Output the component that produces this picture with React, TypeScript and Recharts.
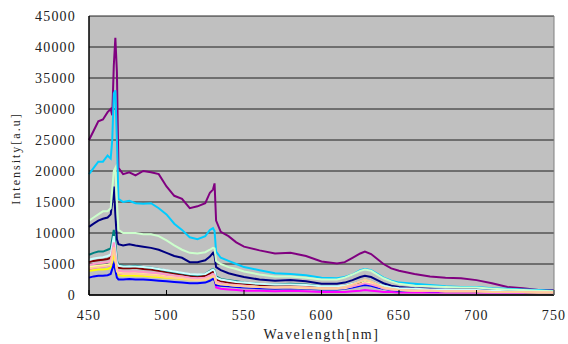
import { LineChart, Line, XAxis, YAxis, CartesianGrid } from "recharts";

const wavelengths = [
  450, 453, 456, 459, 462, 464, 465, 466, 467, 468, 469, 472, 476, 480, 485, 490, 495, 500, 505, 510,
  515, 520, 525, 528, 530, 531, 532, 535, 540, 545, 550, 560, 570, 580, 590, 600, 610, 615, 620, 625,
  628, 632, 636, 640, 645, 650, 660, 670, 680, 690, 700, 710, 720, 730, 740, 750,
];

const navy = [
  11000, 11500, 12000, 12300, 12500, 13000, 15000, 17500, 13000, 9000, 8200, 8000, 8200, 8000, 7800, 7600, 7300, 6800, 6300, 6000,
  5300, 5300, 5600, 6200, 6800, 6300, 4500, 4000, 3500, 3200, 2900, 2500, 2300, 2400, 2200, 1800, 1800, 2000, 2400, 2900,
  3100, 2900, 2400, 1900, 1500, 1300, 1100, 1000, 900, 900, 900, 800, 700, 600, 600, 500,
];
const magenta = [
  4200, 4400, 4500, 4600, 4700, 4800, 6000, 7500, 5500, 3700, 3400, 3400, 3500, 3300, 3300, 3200, 3100, 3000, 2800, 2700,
  2600, 2500, 2600, 2900, 3200, 3000, 1200, 1000, 900, 800, 700, 700, 600, 700, 600, 500, 500, 500, 600, 700,
  800, 700, 600, 500, 500, 400, 400, 400, 400, 400, 400, 400, 400, 400, 400, 400,
];
const yellow = [
  3900, 4000, 4100, 4100, 4200, 4400, 5500, 7000, 5200, 3400, 3200, 3100, 3200, 3100, 3100, 3000, 2900, 2800, 2700, 2600,
  2500, 2400, 2500, 2800, 3100, 2900, 1900, 1700, 1500, 1400, 1300, 1200, 1100, 1200, 1100, 1000, 1000, 1100, 1400, 1800,
  2000, 1800, 1400, 1100, 900, 800, 700, 700, 600, 600, 600, 500, 500, 500, 400, 400,
];
const purple = [
  25000, 26500, 28000, 28300, 29500, 30000, 29000, 37000, 41500, 36000, 20500, 19500, 19800, 19300, 20000, 19800, 19500, 17500, 16000, 15500,
  14000, 14300, 14800, 16500, 17000, 18000, 12000, 10200, 9500, 8500, 7800, 7200, 6700, 6800, 6300, 5400, 5100, 5300, 6000, 6700,
  7000, 6600, 5800, 5000, 4300, 3900, 3400, 3000, 2800, 2700, 2400, 1900, 1300, 1100, 800, 800,
];
const darkRed = [
  5300, 5500, 5600, 5700, 5800, 6000, 7500, 9000, 7000, 4800, 4400, 4300, 4300, 4400, 4200, 4100, 3900, 3700, 3500, 3300,
  3100, 3000, 3100, 3500, 3800, 3600, 2500, 2200, 2000, 1900, 1800, 1600, 1500, 1600, 1500, 1300, 1300, 1400, 1600, 1900,
  2100, 1900, 1600, 1300, 1100, 900, 800, 700, 700, 700, 600, 600, 500, 500, 400, 400,
];
const teal = [
  6500, 6800, 7000, 7000, 7300, 7500, 9000, 10500, 8500, 5500, 4800, 4700, 4600, 4700, 4500, 4400, 4200, 3900, 3700, 3500,
  3300, 3200, 3400, 3900, 4200, 4000, 3000, 2600, 2400, 2200, 2000, 1800, 1700, 1800, 1700, 1400, 1400, 1500, 1800, 2200,
  2400, 2200, 1800, 1500, 1200, 1000, 900, 800, 800, 700, 700, 600, 500, 500, 500, 400,
];
const blue = [
  2800, 3000, 3100, 3100, 3200, 3400, 4200, 5000, 4000, 2800, 2500, 2500, 2600, 2500, 2500, 2400, 2300, 2200, 2100, 2000,
  1900, 1900, 2000, 2300, 2600, 2400, 1600, 1500, 1400, 1300, 1200, 1100, 1000, 1100, 1000, 900, 900, 1000, 1200, 1500,
  1600, 1500, 1200, 1000, 800, 700, 700, 600, 600, 600, 600, 500, 500, 500, 400, 400,
];
const skyBlue = [
  19500, 20500, 21500, 21500, 22500, 22000, 25000, 32500, 33000, 25000, 15500, 15000, 15200, 14800, 14700, 14800, 14000, 13000, 11500, 10500,
  9300, 9000, 9500, 10500, 10800, 10300, 7000, 6000, 5500, 5000, 4500, 4000, 3500, 3400, 3200, 2800, 2700, 2900, 3300, 4000,
  4200, 4000, 3400, 2800, 2300, 2000, 1800, 1600, 1400, 1300, 1300, 1100, 1000, 900, 800, 700,
];
const lightTurquoise = [
  5700, 5900, 6000, 6100, 6300, 6500, 8000, 9500, 7500, 5200, 4700, 4600, 4600, 4600, 4500, 4400, 4200, 4000, 3800, 3600,
  3400, 3300, 3400, 3800, 4100, 3900, 2800, 2500, 2300, 2100, 2000, 1800, 1700, 1700, 1600, 1400, 1400, 1500, 1800, 2200,
  2400, 2200, 1800, 1500, 1200, 1100, 1000, 900, 900, 800, 800, 700, 600, 600, 500, 500,
];
const lightGreen = [
  12000, 12500, 13000, 13500, 13500, 14000, 17000, 20000, 20500, 15000, 10500, 10000, 10000, 10000, 9800, 9800, 9500, 8800, 8000, 7300,
  6800, 6700, 6900, 7300, 7600, 7500, 5500, 5000, 4500, 4200, 3800, 3300, 3000, 3000, 2800, 2500, 2500, 2800, 3300, 3900,
  4100, 3900, 3300, 2700, 2200, 1800, 1500, 1400, 1300, 1200, 1200, 1000, 900, 800, 700, 600,
];
const lightYellow = [
  4500, 4600, 4700, 4800, 4900, 5000, 6500, 8000, 6000, 4000, 3600, 3500, 3500, 3500, 3400, 3300, 3200, 3000, 2900, 2800,
  2600, 2500, 2600, 2900, 3200, 3000, 2000, 1800, 1600, 1500, 1400, 1300, 1200, 1200, 1100, 1000, 1000, 1100, 1400, 1800,
  2100, 1900, 1500, 1100, 900, 800, 700, 700, 600, 600, 600, 500, 500, 500, 400, 400,
];
const rose = [
  4800, 5000, 5100, 5200, 5300, 5500, 7000, 8500, 6500, 4300, 3900, 3800, 3800, 3800, 3700, 3600, 3500, 3300, 3100, 3000,
  2800, 2700, 2800, 3100, 3400, 3200, 2200, 1900, 1700, 1600, 1500, 1300, 1200, 1300, 1200, 1100, 1100, 1200, 1400, 1700,
  1900, 1700, 1400, 1100, 900, 800, 700, 700, 600, 600, 600, 500, 500, 500, 400, 400,
];
const tan = [
  4300, 4400, 4500, 4600, 4700, 4800, 6200, 7700, 5800, 3800, 3500, 3400, 3400, 3400, 3300, 3200, 3100, 2900, 2800, 2700,
  2500, 2400, 2500, 2800, 3100, 2900, 1900, 1700, 1600, 1500, 1400, 1300, 1200, 1300, 1200, 1100, 1100, 1300, 1700, 2200,
  2500, 2200, 1700, 1200, 1000, 800, 700, 700, 600, 600, 600, 500, 500, 500, 400, 400,
];

const xTicks = [450, 500, 550, 600, 650, 700, 750];
const yTicks = [0, 5000, 10000, 15000, 20000, 25000, 30000, 35000, 40000, 45000];

const series = [
  { key: "navy", color: "#000080", values: navy },
  { key: "magenta", color: "#FF00FF", values: magenta },
  { key: "yellow", color: "#FFFF00", values: yellow },
  { key: "purple", color: "#800080", values: purple },
  { key: "darkRed", color: "#800000", values: darkRed },
  { key: "teal", color: "#008080", values: teal },
  { key: "blue", color: "#0000FF", values: blue },
  { key: "skyBlue", color: "#00CCFF", values: skyBlue },
  { key: "lightTurquoise", color: "#CCFFFF", values: lightTurquoise },
  { key: "lightGreen", color: "#CCFFCC", values: lightGreen },
  { key: "lightYellow", color: "#FFFF99", values: lightYellow },
  { key: "rose", color: "#FF99CC", values: rose },
  { key: "tan", color: "#FFCC99", values: tan },
];

const data = wavelengths.map((w, i) => {
  const row: Record<string, number> = { w };
  series.forEach((s) => {
    row[s.key] = s.values[i];
  });
  return row;
});

const font = "'Liberation Serif', 'DejaVu Serif', serif";

const YTitle = ({ viewBox }: any) => {
  const cx = viewBox.x + 16;
  const cy = viewBox.y + viewBox.height / 2 + 3;
  return (
    <text
      x={cx}
      y={cy}
      transform={`rotate(-90, ${cx}, ${cy})`}
      textAnchor="middle"
      dominantBaseline="central"
      fontFamily={font}
      fontSize={12}
      letterSpacing={2}
      fill="#222"
    >
      Intensity[a.u]
    </text>
  );
};

const tickStyle = { fontFamily: font, fontSize: 14, letterSpacing: 1.2, fill: "#222" };

const App = () => (
  <div style={{ width: 568, height: 344, background: "#fff" }}>
    <style>{"body{margin:0}"}</style>
    <LineChart width={568} height={344} data={data} margin={{ top: 16, right: 0, left: 0, bottom: 0 }}>
      <CartesianGrid vertical={false} fill="#C0C0C0" stroke="#000" strokeOpacity={0.85} />
      <XAxis
        dataKey="w"
        type="number"
        domain={[450, 750]}
        ticks={xTicks}
        height={49}
        tickSize={-5}
        tickMargin={20}
        axisLine={{ stroke: "#000", strokeWidth: 1.5 }}
        tickLine={{ stroke: "#000" }}
        tick={tickStyle}
        label={{
          value: "Wavelength[nm]",
          position: "insideBottom",
          offset: 5,
          fontFamily: font,
          fontSize: 14,
          letterSpacing: 1.6,
          fill: "#222",
        }}
      />
      <YAxis
        domain={[0, 45000]}
        ticks={yTicks}
        width={89}
        tickSize={0}
        tickMargin={13}
        tickLine={false}
        axisLine={{ stroke: "#000", strokeWidth: 1.5 }}
        tick={tickStyle}
        label={{ content: YTitle }}
      />
      <YAxis
        yAxisId="right"
        orientation="right"
        domain={[0, 45000]}
        width={14}
        tick={false}
        tickLine={false}
        axisLine={{ stroke: "#808080" }}
      />
      {series.map((s) => (
        <Line
          key={s.key}
          type="linear"
          dataKey={s.key}
          stroke={s.color}
          strokeWidth={2}
          dot={false}
          isAnimationActive={false}
        />
      ))}
    </LineChart>
  </div>
);

export default App;
